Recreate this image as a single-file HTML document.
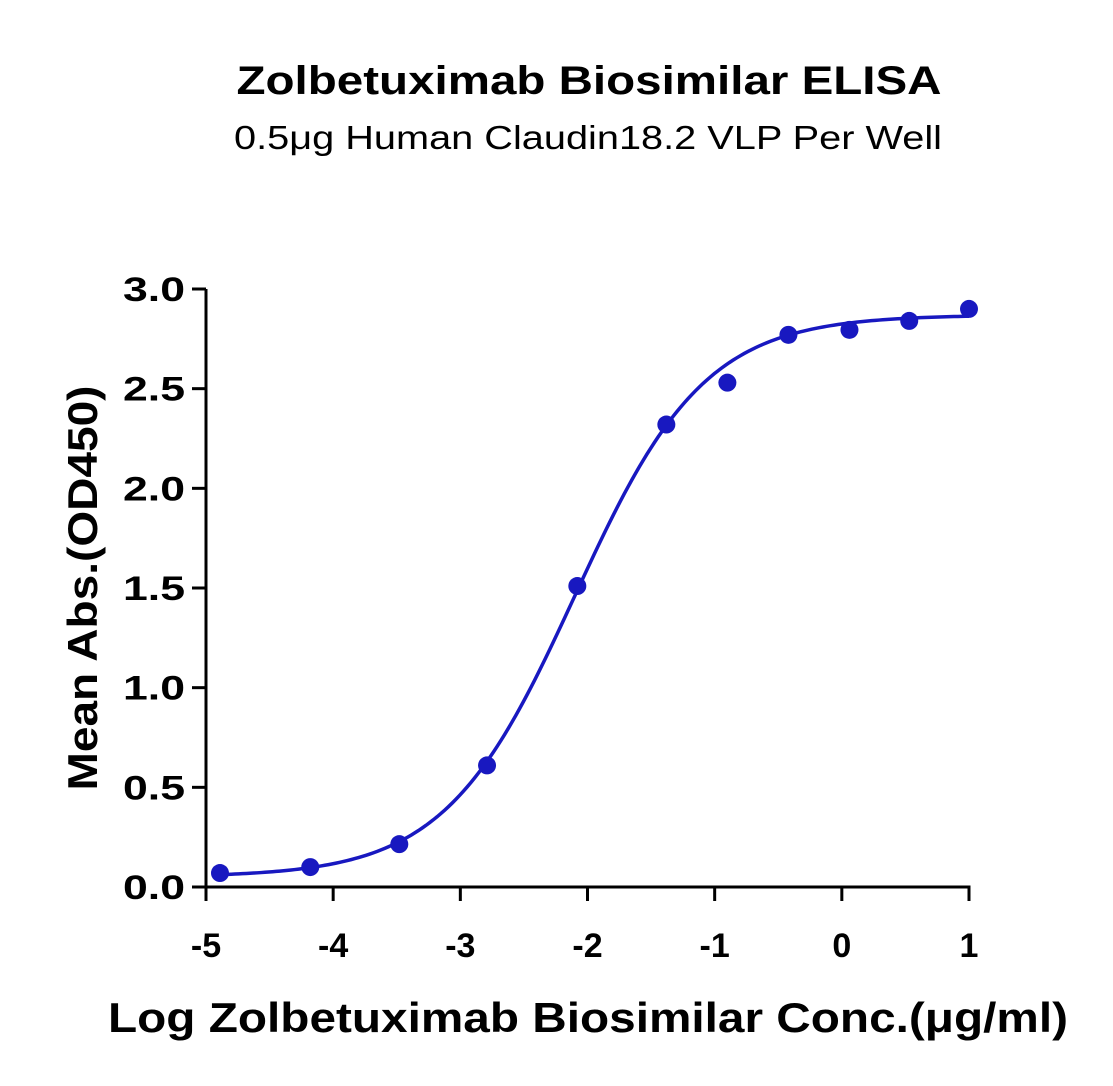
<!DOCTYPE html>
<html><head><meta charset="utf-8"><style>
html,body{margin:0;padding:0;background:#fff;}
svg{display:block;font-family:"Liberation Sans",sans-serif;}
</style></head><body>
<svg id="chart" width="1113" height="1086" viewBox="0 0 1113 1086" xmlns="http://www.w3.org/2000/svg">
<text x="589" y="94" text-anchor="middle" font-size="40" font-weight="bold" textLength="705" lengthAdjust="spacingAndGlyphs">Zolbetuximab Biosimilar ELISA</text>
<text x="588" y="149" text-anchor="middle" font-size="33" textLength="708" lengthAdjust="spacingAndGlyphs">0.5μg Human Claudin18.2 VLP Per Well</text>
<text x="588" y="1032" text-anchor="middle" font-size="42" font-weight="bold" textLength="960" lengthAdjust="spacingAndGlyphs">Log Zolbetuximab Biosimilar Conc.(μg/ml)</text>
<text transform="translate(97,588) rotate(-90)" text-anchor="middle" font-size="42" font-weight="bold" textLength="405" lengthAdjust="spacingAndGlyphs">Mean Abs.(OD450)</text>
<g id="axes"></g>
<g id="plot"></g>
</svg>
<script>
const xLogConc = [-4.89, -4.18, -3.48, -2.79, -2.08, -1.38, -0.90, -0.42, 0.06, 0.53, 1.0];
const yAbs = [0.07, 0.10, 0.215, 0.61, 1.51, 2.32, 2.53, 2.77, 2.795, 2.84, 2.90];
const fitParams = [0.05, 2.87, -2.1, 0.85]; // bottom, top, logEC50, hill
const xTicks = [-5, -4, -3, -2, -1, 0, 1];
const yTicks = [0, 0.5, 1.0, 1.5, 2.0, 2.5, 3.0];
const yTickLabels = ["0.0","0.5","1.0","1.5","2.0","2.5","3.0"];

const NS = "http://www.w3.org/2000/svg";
const X0 = 206, X1 = 969, Y0 = 887, Y1 = 289;
const xs = v => X0 + (v - (-5)) / 6 * (X1 - X0);
const ys = v => Y0 - v / 3 * (Y0 - Y1);
function mk(tag, attrs, parent) {
  const e = document.createElementNS(NS, tag);
  for (const k in attrs) e.setAttribute(k, attrs[k]);
  parent.appendChild(e);
  return e;
}
const axes = document.getElementById('axes');
const plot = document.getElementById('plot');
let yl = mk('line', {x1: X0, y1: Y1, x2: X0, y2: Y0 + 1.5, stroke: '#000', 'stroke-width': 3}, axes);


let xl = mk('line', {x1: X0 - 1.5, y1: Y0, x2: X1 + 1.5, y2: Y0, stroke: '#000', 'stroke-width': 3}, axes);


yTicks.forEach((v, i) => {
  const t = mk('line', {x1: X0 - 14, y1: ys(v), x2: X0, y2: ys(v), stroke: '#000', 'stroke-width': 3}, axes);
  
  
  const l = mk('text', {x: X0 - 21, y: ys(v) + 12, 'text-anchor': 'end', 'font-size': 34, 'font-weight': 'bold', textLength: 62, lengthAdjust: 'spacingAndGlyphs'}, axes);
  l.textContent = yTickLabels[i];
  
  
});
xTicks.forEach(v => {
  const t = mk('line', {x1: xs(v), y1: Y0, x2: xs(v), y2: Y0 + 14, stroke: '#000', 'stroke-width': 3}, axes);
  
  
  const l = mk('text', {x: xs(v), y: Y0 + 70, 'text-anchor': 'middle', 'font-size': 34, 'font-weight': 'bold'}, axes);
  l.textContent = String(v);
  
  
});
const [b, t, ec, h] = fitParams;
const f = x => b + (t - b) / (1 + Math.pow(10, (ec - x) * h));
let d = '';
const xa = xLogConc[0], xb = xLogConc[xLogConc.length - 1];
for (let i = 0; i <= 200; i++) {
  const x = xa + (xb - xa) * i / 200;
  d += (i ? 'L' : 'M') + xs(x).toFixed(2) + ',' + ys(f(x)).toFixed(2);
}
const c = mk('path', {d: d, fill: 'none', stroke: '#1818c0', 'stroke-width': 3.5}, plot);


xLogConc.forEach((x, i) => {
  const p = mk('circle', {cx: xs(x), cy: ys(yAbs[i]), r: 9, fill: '#1818c0'}, plot);
  
  
});
</script>
</body></html>
